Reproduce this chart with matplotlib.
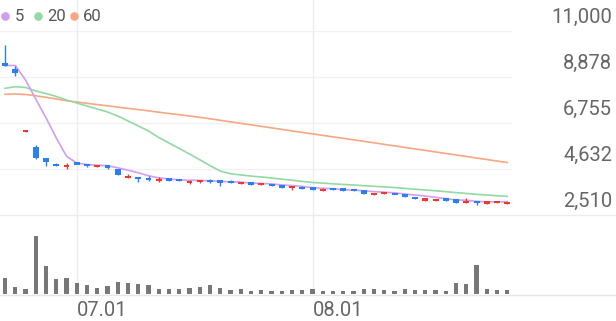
import matplotlib
matplotlib.use("Agg")
import matplotlib.pyplot as plt
from matplotlib import transforms
import numpy as np

# ---- data ----
opens = [9523, 9247, 6370, 5648, 5117, 4886, 4725, 4909, 4863, 4748, 4817, 4632, 4240, 4278, 4217, 4056, 4203, 4139, 3964, 4010,
         4148, 4125, 4079, 3941, 4033, 3894, 3941, 3894, 3742, 3825, 3802, 3618, 3756, 3733, 3696, 3664, 3433, 3479, 3525, 3493,
         3341, 3170, 3142, 3294, 3234, 3064, 3170, 3032, 3064, 3032]
closes = [9408, 9062, 6430, 5117, 4956, 4771, 4840, 4863, 4748, 4817, 4656, 4356, 4310, 4157, 4125, 4171, 4102, 4079, 4079, 4125,
          4033, 3987, 3987, 4010, 3894, 3964, 3871, 3756, 3848, 3710, 3664, 3724, 3664, 3632, 3618, 3479, 3539, 3558, 3465, 3355,
          3248, 3294, 3262, 3170, 3050, 3170, 3050, 3156, 3142, 3124]
highs = [10354, 9362, 6440, 5717, 5140, 4900, 4932, 4955, 4870, 4825, 4830, 4640, 4402, 4285, 4287, 4250, 4210, 4145, 4102, 4148,
         4171, 4125, 4148, 4033, 4040, 3975, 3950, 3900, 3855, 3830, 3810, 3735, 3760, 3740, 3700, 3670, 3545, 3565, 3530, 3500,
         3345, 3300, 3268, 3300, 3240, 3308, 3175, 3160, 3146, 3128]
lows = [9380, 8901, 6360, 5108, 4771, 4750, 4610, 4863, 4740, 4740, 4650, 4345, 4235, 4047, 4100, 4050, 4095, 4070, 3941, 3987,
        3987, 3871, 3987, 3941, 3890, 3890, 3865, 3750, 3664, 3700, 3655, 3610, 3660, 3625, 3612, 3470, 3428, 3475, 3460, 3350,
        3244, 3165, 3138, 3165, 3045, 3060, 2972, 3028, 3060, 3028]
volumes = [160, 73, 50, 577, 277, 150, 160, 107, 87, 57, 77, 117, 107, 97, 87, 50, 50, 50, 57, 70,
           93, 63, 43, 50, 33, 43, 33, 33, 43, 43, 50, 33, 33, 33, 27, 50, 50, 40, 33, 50,
           43, 43, 40, 33, 107, 97, 293, 50, 43, 43]
ma5 = [9408, 9408, 8740, 7860, 6993, 6065, 5221, 4909, 4836, 4808, 4785, 4688, 4577, 4459, 4321, 4224, 4173, 4127, 4111, 4111,
       4084, 4061, 4042, 4028, 3982, 3968, 3945, 3899, 3867, 3830, 3770, 3740, 3722, 3679, 3660, 3623, 3586, 3565, 3532, 3479,
       3433, 3384, 3325, 3266, 3205, 3189, 3140, 3119, 3114, 3128]
ma20 = [8356, 8430, 8393, 8232, 8116, 7978, 7816, 7678, 7539, 7401, 7263, 7078, 6847, 6617, 6386, 6086, 5832, 5578, 5325, 5058,
        4789, 4536, 4414, 4359, 4306, 4265, 4217, 4161, 4116, 4061, 4011, 3980, 3948, 3921, 3896, 3861, 3833, 3807, 3776, 3738,
        3699, 3664, 3628, 3586, 3544, 3504, 3463, 3433, 3398, 3368]
ma60 = [8079, 8093, 8070, 8010, 7941, 7863, 7784, 7724, 7664, 7604, 7549, 7489, 7429, 7374, 7314, 7253, 7194, 7138, 7078, 7018,
        6950, 6880, 6810, 6740, 6670, 6600, 6530, 6460, 6390, 6320, 6252, 6184, 6116, 6048, 5980, 5910, 5840, 5770, 5700, 5630,
        5560, 5490, 5420, 5350, 5280, 5210, 5140, 5070, 5000, 4932]
x_tick_idx = [7, 30]
x_tick_labels = ["07.01", "08.01"]
y_ticks = [2510, 4632.5, 6755, 8877.5, 11000]
y_tick_labels = ["2,510", "4,632", "6,755", "8,878", "11,000"]
legend_labels = ["5", "20", "60"]

# ---- style ----
plt.rcParams['font.family'] = ['Roboto', 'DejaVu Sans']
RED = '#ee3a2e'
BLUE = '#2a7ff5'
C5, C20, C60 = '#d39df0', '#93d9a3', '#f7a781'
GRID = '#f1f1f1'
TXT = '#666666'

W, H = 616, 321
fig = plt.figure(figsize=(W / 100, H / 100), dpi=100)
fig.patch.set_facecolor('white')

def fy(px):
    return 1 - px / H

plot_right = 512 / W
ax = fig.add_axes([0, fy(215), plot_right, fy(31) - fy(215)])
axv = fig.add_axes([0, fy(294), plot_right, fy(215) - fy(294)])

n = len(closes)
xs = np.arange(n)
xl = (-0.49, 49.46)
for a in (ax, axv):
    a.set_xlim(*xl)
    a.set_facecolor('none')
    for s in a.spines.values():
        s.set_visible(False)
    a.set_xticks([])
    a.set_yticks([])

ax.set_ylim(y_ticks[0], y_ticks[-1])
axv.set_ylim(0, 790)

# grid
for v in y_ticks[1:]:
    ax.axhline(v, color=GRID, lw=1.0, zorder=0)
ext = 1 + 31 / (215 - 31)
for xi in x_tick_idx:
    ax.axvline(xi, ymin=0, ymax=ext, color='#ececec', lw=1.0, zorder=0, clip_on=False)
    axv.axvline(xi, color='#ececec', lw=1.0, zorder=0)

# full-width separators
fig.add_artist(plt.Line2D([0, 1], [fy(214.5), fy(214.5)], color='#ebebeb', lw=1.0, transform=fig.transFigure))
fig.add_artist(plt.Line2D([0, 1], [fy(294.5), fy(294.5)], color='#e6e6e6', lw=1.0, transform=fig.transFigure))

# moving averages
ax.plot(xs, ma60, color=C60, lw=1.2, zorder=2)
ax.plot(xs, ma20, color=C20, lw=1.2, zorder=2)
ax.plot(xs, ma5, color=C5, lw=1.2, zorder=2)

# candles
o = np.array(opens, dtype=float); c = np.array(closes, dtype=float)
hi = np.array(highs, dtype=float); lo = np.array(lows, dtype=float)
cols = [RED if cc >= oo else BLUE for oo, cc in zip(o, c)]
ax.vlines(xs, lo, hi, colors=cols, lw=1.0, zorder=3)
# minimum visible body thickness (~2 px)
units_per_px = (y_ticks[-1] - y_ticks[0]) / (215 - 31)
min_h = 2.2 * units_per_px
top = np.maximum(o, c); bot = np.minimum(o, c)
mid = (top + bot) / 2
hgt = np.maximum(top - bot, min_h)
ax.bar(xs, hgt, bottom=mid - hgt / 2, width=0.58, color=cols, zorder=4, linewidth=0)

# volume
axv.bar(xs, volumes, width=0.42, color='#777777', linewidth=0, zorder=2)

# y labels (right side)
ytr = transforms.offset_copy(transforms.blended_transform_factory(fig.transFigure, ax.transData),
                             fig=fig, x=0, y=8, units='dots')
for v, lab in zip(y_ticks, y_tick_labels):
    ax.text(612 / W, v, lab, transform=ytr, ha='right', va='baseline',
            fontsize=14.5, color=TXT, clip_on=False)

# x labels
xtr = transforms.blended_transform_factory(axv.transData, fig.transFigure)
for xi, lab in zip(x_tick_idx, x_tick_labels):
    axv.text(xi + 0.05, fy(316.5), lab, transform=xtr, ha='left', va='baseline',
             fontsize=14.5, color=TXT, clip_on=False)

# legend
leg_x = [5, 37.5, 73.5]
leg_tx = [15, 47, 83]
for cx, tx, col, lab in zip(leg_x, leg_tx, [C5, C20, C60], legend_labels):
    fig.add_artist(plt.Line2D([cx / W], [fy(15.5)], marker='o', markersize=6.2, color=col,
                              markeredgewidth=0, linestyle='none', transform=fig.transFigure))
    fig.text(tx / W, fy(20.7), lab, ha='left', va='baseline', fontsize=12, color='#555555')

fig.savefig('out.png', dpi=100, facecolor='white')
